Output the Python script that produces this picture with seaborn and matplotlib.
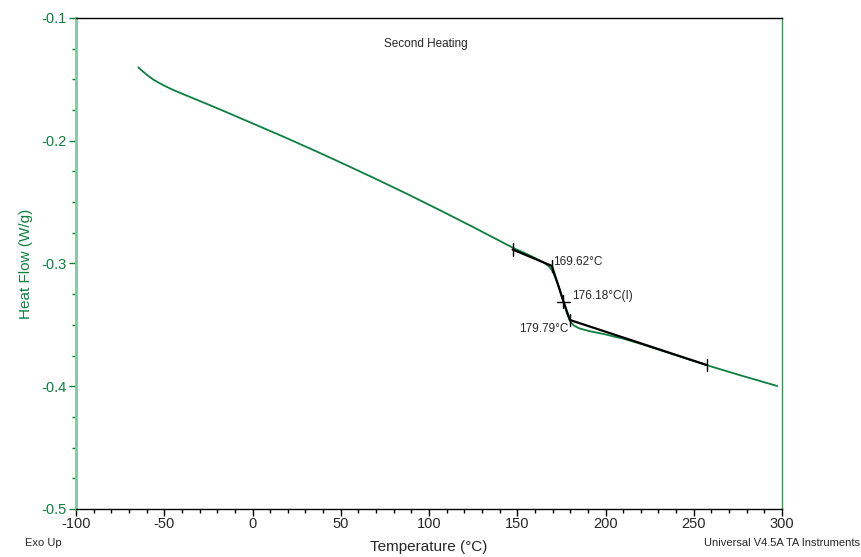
import numpy as np
import pandas as pd
import seaborn as sns
import matplotlib.pyplot as plt
from matplotlib.ticker import MultipleLocator

# second heating DSC trace
temperature = [-64.7, -62.0, -59.0, -56.2, -53.0, -50.5, -45.0, -40.0, -31.6, -22.0,
               -12.7, -1.4, 17.5, 36.4, 49.6, 68.4, 87.4, 106.2, 125.1, 147.8,
               155.0, 160.0, 165.0, 168.0, 170.0, 173.0, 176.0, 178.0, 180.0, 182.0,
               185.0, 190.0, 195.0, 200.0, 205.0, 210.0, 220.0, 240.0, 257.3, 275.0,
               297.3]
heat_flow = [-0.1402, -0.1437, -0.1472, -0.1502, -0.1528, -0.1548, -0.1586, -0.1616, -0.1666, -0.1723,
             -0.1780, -0.1850, -0.1967, -0.2088, -0.2175, -0.2301, -0.2432, -0.2566, -0.2704, -0.2874,
             -0.2920, -0.2955, -0.2992, -0.3024, -0.3062, -0.3165, -0.3300, -0.3400, -0.3470, -0.3505,
             -0.3528, -0.3548, -0.3563, -0.3578, -0.3596, -0.3612, -0.3655, -0.3748, -0.3828, -0.3905,
             -0.3998]

# glass transition analysis (tangent construction)
tg_limits = [147.4, 257.3]
tg_onset = (169.62, -0.3020)
tg_mid = (176.18, -0.3310)
tg_end = (179.79, -0.3460)
tg_limit_flow = [-0.2886, -0.3827]

green = "#0b8040"
pale_green = "#7fc79c"

sns.set_theme(style="white")
plt.rcParams["font.family"] = ["Liberation Sans", "DejaVu Sans"]
plt.rcParams["axes.unicode_minus"] = False

df = pd.DataFrame({"Temperature": temperature, "Heat Flow": heat_flow})

fig = plt.figure(figsize=(8.62, 5.57), dpi=100)
ax = fig.add_axes([0.0882, 0.0862, 0.8190, 0.8815])

sns.lineplot(data=df, x="Temperature", y="Heat Flow", ax=ax, color=green, lw=1.3, sort=False)

# tangent lines
tx = [tg_limits[0], tg_onset[0], tg_mid[0], tg_end[0], tg_limits[1]]
ty = [tg_limit_flow[0], tg_onset[1], tg_mid[1], tg_end[1], tg_limit_flow[1]]
ax.plot(tx, ty, color="black", lw=1.6, zorder=3)

# little vertical markers at limits / onset / end
dy = 0.005
for xv, yv in [(tg_limits[0], tg_limit_flow[0]), (tg_onset[0], tg_onset[1]),
               (tg_end[0], tg_end[1]), (tg_limits[1], tg_limit_flow[1])]:
    ax.plot([xv, xv], [yv + dy, yv - dy], color="black", lw=1.0, zorder=4)
# cross at the midpoint
ax.plot([tg_mid[0], tg_mid[0]], [tg_mid[1] + dy, tg_mid[1] - dy], color="black", lw=1.0, zorder=4)
ax.plot([tg_mid[0] - 3.7, tg_mid[0] + 3.7], [tg_mid[1], tg_mid[1]], color="black", lw=1.0, zorder=4)

ax.text(170.3, -0.2985, "%.2f°C" % tg_onset[0], fontsize=8.5, va="center", ha="left")
ax.text(181.0, -0.3265, "%.2f°C(I)" % tg_mid[0], fontsize=8.5, va="center", ha="left")
ax.text(178.9, -0.3533, "%.2f°C" % tg_end[0], fontsize=8.5, va="center", ha="right")

ax.text(98.3, -0.1212, "Second Heating", fontsize=8.5, ha="center", va="center")

ax.set_xlim(-100, 300)
ax.set_ylim(-0.5, -0.1)
ax.xaxis.set_major_locator(MultipleLocator(50))
ax.xaxis.set_minor_locator(MultipleLocator(10))
ax.yaxis.set_minor_locator(MultipleLocator(0.025))
ax.set_yticks(np.arange(-0.5, -0.09, 0.1))
ax.set_yticklabels(["-0.5", "-0.4", "-0.3", "-0.2", "-0.1"])

ax.tick_params(axis="x", which="major", direction="out", length=5, width=1, color="black",
               labelsize=10.5, pad=1, bottom=True)
ax.tick_params(axis="x", which="minor", direction="out", length=3, width=1, color="black", bottom=True)
ax.tick_params(axis="y", which="major", direction="out", length=5, width=1, color=green,
               labelsize=10.5, labelcolor=green, pad=2, left=True)
ax.tick_params(axis="y", which="minor", direction="out", length=3, width=1, color=green, left=True)

for side in ["top", "bottom"]:
    ax.spines[side].set_color("black")
    ax.spines[side].set_linewidth(1.0)
ax.spines["left"].set_color(pale_green)
ax.spines["left"].set_linewidth(2.0)
ax.spines["right"].set_color("#28a050")
ax.spines["right"].set_linewidth(1.0)

ax.set_xlabel("Temperature (°C)", fontsize=11, labelpad=6)
ax.set_ylabel("Heat Flow (W/g)", fontsize=11, color=green, labelpad=6)

fig.text(25 / 862, 1 - 543 / 557, "Exo Up", fontsize=8, ha="left", va="center")
fig.text(860 / 862, 1 - 543 / 557, "Universal V4.5A TA Instruments", fontsize=8, ha="right", va="center")

fig.savefig("out.png", dpi=100)
